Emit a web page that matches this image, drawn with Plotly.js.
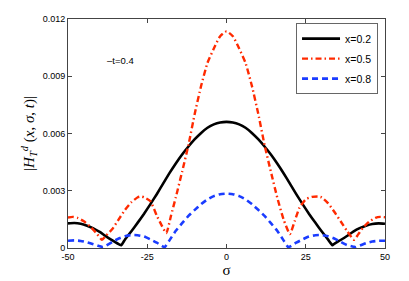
<!DOCTYPE html>
<html>
<head>
<meta charset="utf-8">
<script src="https://cdn.plot.ly/plotly-3.0.1.min.js"></script>
<style>html,body{margin:0;padding:0;background:#fff;}#chart{width:409px;height:281px;}</style>
</head>
<body>
<div id="chart"></div>
<script>
// sigma grid and values for each series
var sigmaA = [-50,-48,-46,-44,-42,-40,-38,-36,-34,-33.2,-32,-30,-28,-26,-24,-22,-20,-18,-16,-14,-12,-10,-8,-6,-4,-2,0,
              2,4,6,8,10,12,14,16,18,20,22,24,26,28,30,32,33.4,34,36,38,40,42,44,46,48,50];
var valA = [0.00129,0.00131,0.00127,0.00117,0.00103,0.00084,0.00061,0.00040,0.00020,0.00015,0.00045,0.00088,0.00133,0.00180,0.00230,0.00282,0.00337,0.00392,0.00443,0.00490,0.00532,0.00570,0.00603,0.00630,0.00648,0.00658,0.00661,
            0.00658,0.00648,0.00630,0.00603,0.00570,0.00532,0.00490,0.00443,0.00392,0.00337,0.00282,0.00230,0.00180,0.00133,0.00088,0.00045,0.00015,0.00022,0.00042,0.00063,0.00086,0.00104,0.00117,0.00126,0.00129,0.00127];

var sigmaB = [-50,-48.5,-47,-45,-43,-41,-39.3,-38,-36,-34,-32,-30,-28,-27,-26,-24,-22,-20.5,-19,-17.5,-16,-14,-12,-10,-8,-6,-4,-2,0,
              2,4,6,8,10,12,14,16,18,20,21.5,23,25,27,29,30,32,34,36,38,40.2,41.5,43,45,47,48.5,50];
var valB = [0.00160,0.00163,0.00158,0.00140,0.00112,0.00077,0.00043,0.00065,0.00100,0.00150,0.00200,0.00240,0.00266,0.00270,0.00266,0.00245,0.00170,0.00120,0.00078,0.00170,0.00265,0.00400,0.00540,0.00705,0.00850,0.00970,0.01045,0.01110,0.01135,
            0.01110,0.01045,0.00970,0.00850,0.00705,0.00540,0.00400,0.00265,0.00150,0.00073,0.00140,0.00210,0.00255,0.00268,0.00270,0.00265,0.00235,0.00190,0.00140,0.00090,0.00043,0.00070,0.00105,0.00138,0.00158,0.00163,0.00161];

var sigmaC = [-50,-48,-46,-44,-42,-40,-39,-38,-36,-34,-32,-30,-28,-26,-24,-22,-20,-19.5,-18,-16,-14,-12,-10,-8,-6,-4,-2,0,
              2,4,6,8,10,12,14,16,18,19.5,20,22,24,26,28,30,32,34,36,38,40,40.8,42,44,46,48,50];
var valC = [0.00038,0.00040,0.00037,0.00030,0.00020,0.00009,0.00005,0.00012,0.00032,0.00050,0.00062,0.00068,0.00067,0.00060,0.00045,0.00028,0.00007,0.00004,0.00040,0.00090,0.00130,0.00168,0.00200,0.00230,0.00255,0.00272,0.00282,0.00285,
            0.00282,0.00272,0.00255,0.00230,0.00200,0.00168,0.00130,0.00090,0.00040,0.00004,0.00007,0.00028,0.00045,0.00060,0.00067,0.00068,0.00062,0.00050,0.00032,0.00015,0.00007,0.00004,0.00012,0.00025,0.00034,0.00038,0.00038];

var seriesNames = ['x=0.2','x=0.5','x=0.8'];
var xTickVals = [-50,-25,0,25,50];
var xTickText = ['-50','-25','0','25','50'];
var yTickVals = [0,0.003,0.006,0.009,0.012];
var yTickText = ['0','0.003','0.006','0.009','0.012'];

var traces = [
  {x: sigmaA, y: valA, name: seriesNames[0], legendgroup: 'a', mode: 'lines', type: 'scatter',
   line: {color: '#000000', width: 2.6, shape: 'spline', smoothing: 0.5}},
  {x: sigmaB, y: valB, name: seriesNames[1], legendgroup: 'b', mode: 'lines', type: 'scatter',
   line: {color: '#ff2a00', width: 2.4, dash: '6px,3px,1.5px,3px', shape: 'spline', smoothing: 0.5}},
  {x: sigmaC, y: valC, name: seriesNames[2], legendgroup: 'c', mode: 'lines', type: 'scatter',
   line: {color: '#1a3cff', width: 2.6, dash: '6px,4px', shape: 'spline', smoothing: 0.5}}
];

var axisCommon = {
  showgrid: false, zeroline: false, showline: true, mirror: 'ticks',
  linecolor: '#444', linewidth: 1, ticks: 'inside', ticklen: 4, tickcolor: '#444',
  tickfont: {family: 'Liberation Sans, Arial, sans-serif', size: 9, color: '#000'}
};

var layout = {
  width: 409, height: 281,
  margin: {l: 68, r: 24, t: 19, b: 33},
  paper_bgcolor: '#fff', plot_bgcolor: '#fff',
  showlegend: true,
  legend: {x: 0.978, y: 0.982, xanchor: 'right', yanchor: 'top',
           bgcolor: '#fff', bordercolor: '#666', borderwidth: 1,
           itemwidth: 38, tracegroupgap: 1,
           font: {family: 'Liberation Sans, Arial, sans-serif', size: 10.5, color: '#000'}},
  xaxis: Object.assign({}, axisCommon, {
    range: [-50, 50], tickvals: xTickVals, ticktext: xTickText,
    title: {text: 'σ', font: {family: 'Liberation Serif, serif', size: 15, color: '#000'}, standoff: 3}
  }),
  yaxis: Object.assign({}, axisCommon, {
    range: [0, 0.012], tickvals: yTickVals, ticktext: yTickText,
    title: {text: '|<i>H</i><sub><i>T</i></sub><sup><i>d</i></sup> (<i>x</i>, <i>σ</i>, <i>t</i>)|',
            font: {family: 'Liberation Serif, serif', size: 15, color: '#000'}, standoff: 4}
  }),
  annotations: [{
    text: '–t=0.4', xref: 'paper', yref: 'paper', x: 0.165, y: 0.82,
    xanchor: 'center', yanchor: 'middle', showarrow: false,
    font: {family: 'Liberation Sans, Arial, sans-serif', size: 9.5, color: '#000'}
  }]
};

Plotly.newPlot('chart', traces, layout, {displayModeBar: false, staticPlot: true});
</script>
</body>
</html>
